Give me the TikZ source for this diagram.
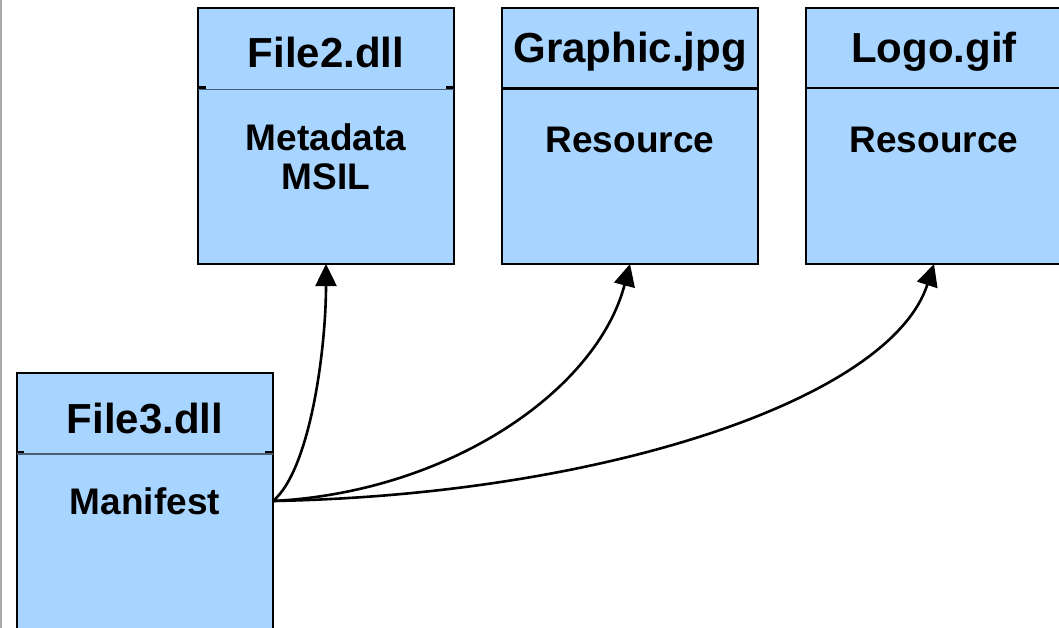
\documentclass[tikz,border=0pt]{standalone}
\usepackage{fontspec}
\setmainfont{Liberation Sans}
\usetikzlibrary{arrows.meta}
\definecolor{boxblue}{RGB}{168,213,255}
\definecolor{rulegray}{RGB}{170,170,170}
\definecolor{slate}{RGB}{70,95,115}

\begin{document}
\begin{tikzpicture}[x=1pt,y=-1pt,
  filebox/.style={draw=black,line width=2.8pt,fill=boxblue,
    minimum width=256pt,minimum height=256pt,inner sep=0pt,outer sep=0pt},
  title/.style={anchor=base,inner sep=0pt,
    font=\bfseries\fontsize{42}{48}\selectfont},
  body/.style={anchor=base,inner sep=0pt,align=center,
    font=\bfseries\fontsize{37}{39.5}\selectfont},
  divider/.style={line width=2.4pt,black},
  thindivider/.style={line width=1.3pt,slate},
  stub/.style={line width=2.4pt,black},
  link/.style={line width=2.6pt,-{Triangle[length=22pt,width=21pt]}}]

  \useasboundingbox (0,0) rectangle (1059,628);
  \clip (0,0) rectangle (1059,628);

  % page rule on the left
  \draw[rulegray,line width=2pt] (1,0) -- (1,628);

  % file boxes
  \node[filebox] (f2) at (326,136) {};
  \node[filebox] (gj) at (630,136) {};
  \node[filebox] (lg) at (934,136) {};
  \node[filebox] (f3) at (145,501) {};

  % header separators
  \draw[thindivider] (198,89.3) -- (454,89.3);
  \draw[stub] (198,87.5) -- (206,87.5);
  \draw[stub] (446,87.5) -- (454,87.5);
  \draw[divider] (502,88.5) -- (758,88.5);
  \draw[divider] (806,88) -- (1062,88);
  \draw[thindivider] (17,454) -- (273,454);
  \draw[stub] (17,452) -- (24,452);
  \draw[stub] (265,452) -- (273,452);

  % titles
  \node[title] (f2t) at (326,68) {File2.dll};
  \node[title] (gjt) at (630,63) {Graphic.jpg};
  \node[title] (lgt) at (934,63) {Logo.gif};
  \node[title] (f3t) at (145,433) {File3.dll};

  % contents (base of a two-line node is its last line)
  \node[body] (f2b) at (326,190) {Metadata\\MSIL};
  \node[body] (gjb) at (630,153) {Resource};
  \node[body] (lgb) at (934,153) {Resource};
  \node[body] (f3b) at (145,514) {Manifest};

  % references from the manifest
  \draw[link] (f3.east) .. controls (310,470) and (326,350) .. (f2.south);
  \draw[link] (f3.east) .. controls (450,492) and (597,390) .. (gj.south);
  \draw[link] (f3.east) .. controls (600,495) and (890,400) .. (lg.south);
\end{tikzpicture}
\end{document}
